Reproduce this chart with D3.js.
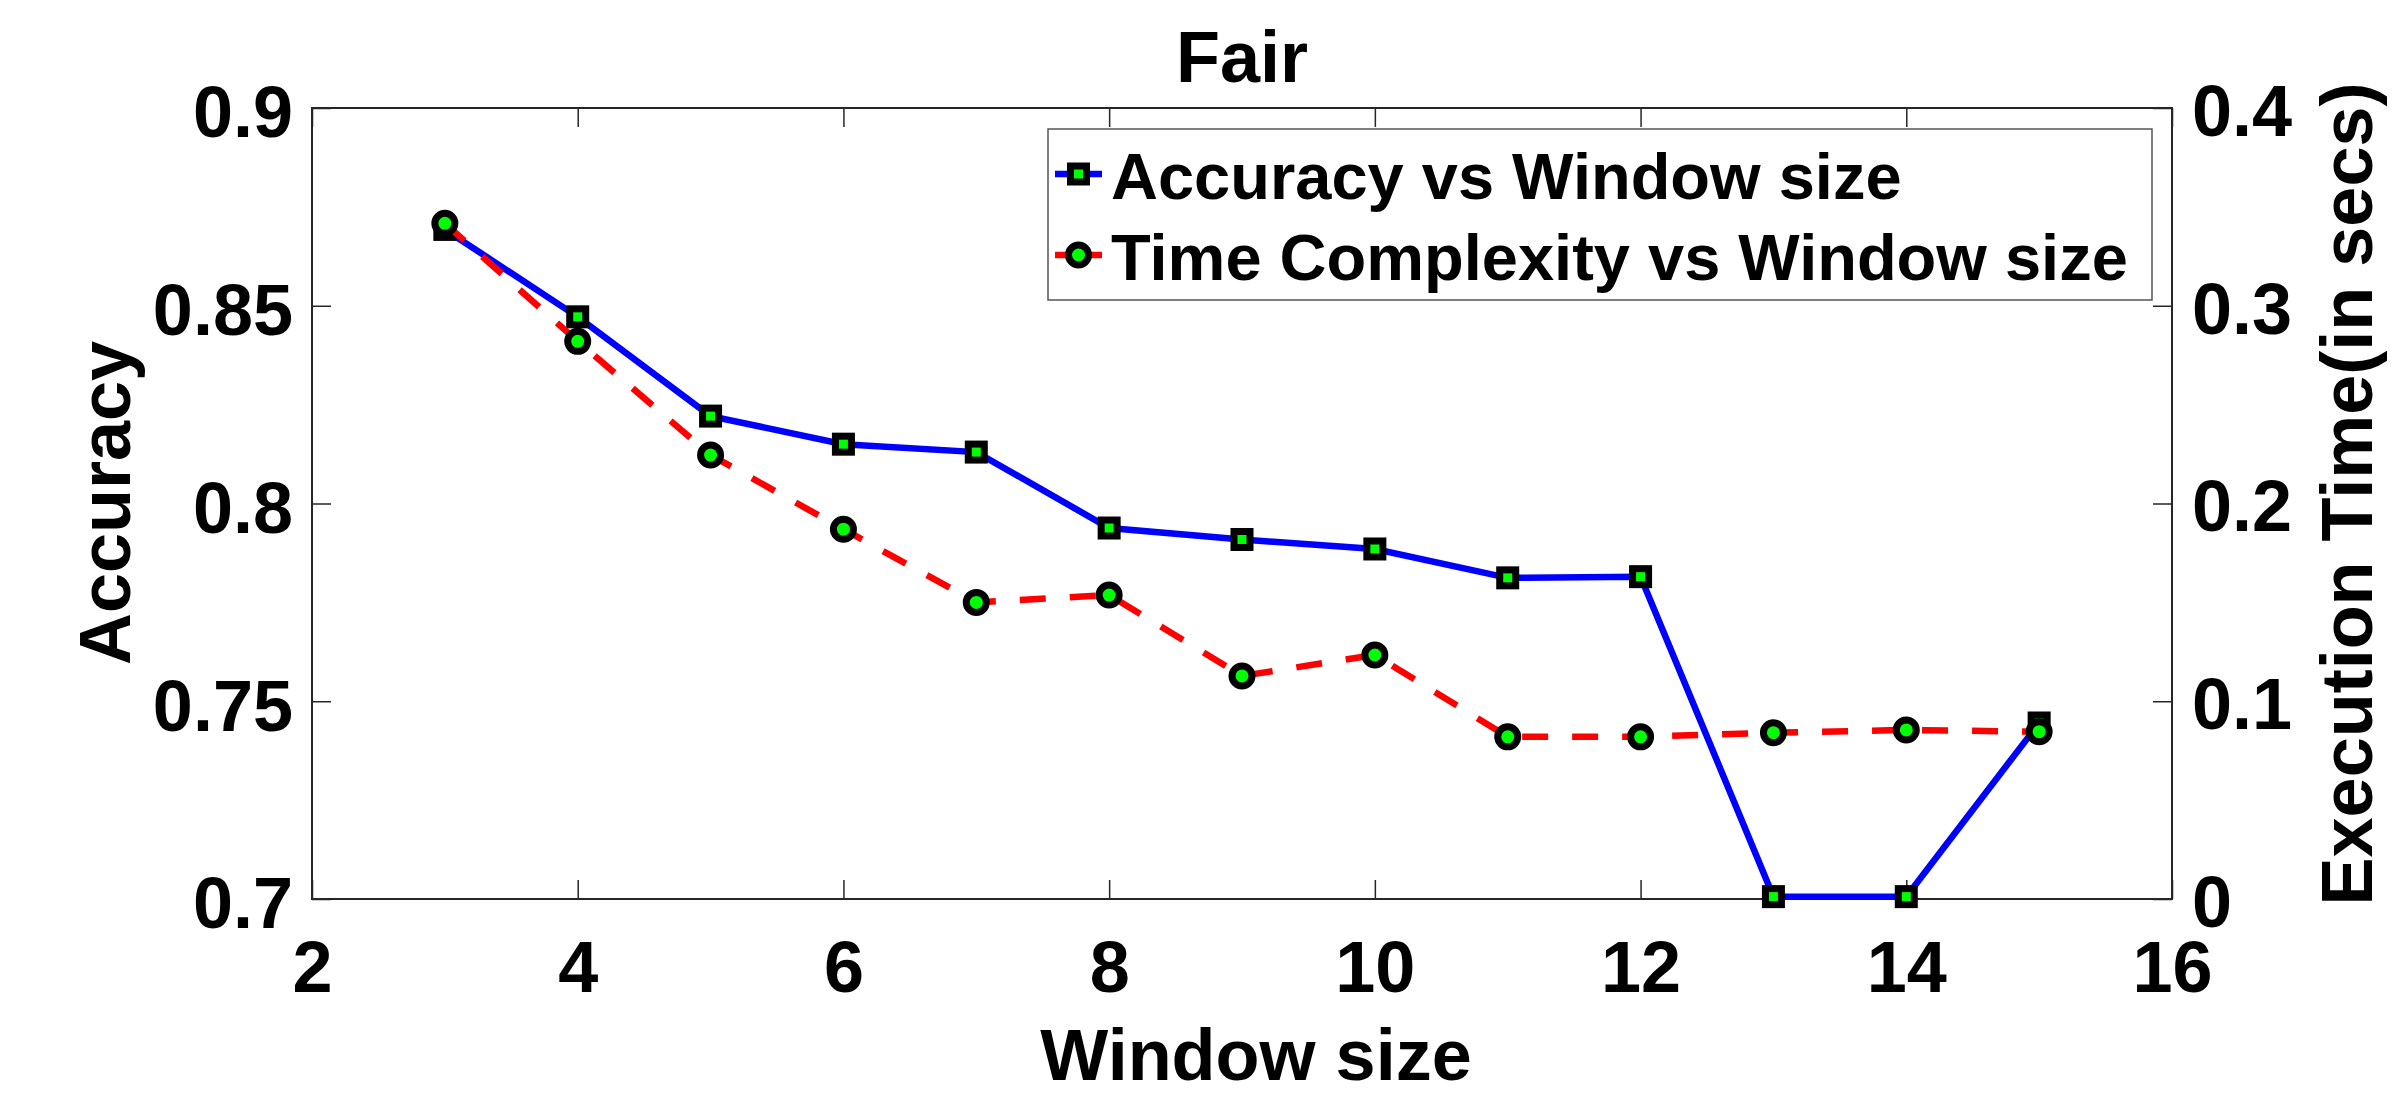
<html>
    <head>
        <script src="https://d3js.org/d3.v7.min.js" charset="utf-8"></script>
    </head>
    <style>
        body{
            margin:0;
            background:#fff;
        }
        text{
            font-family:"Liberation Sans", Arial, Helvetica, sans-serif;
            font-weight:bold;
        }
    </style>
    <body>
    </body>
    <script>
        // values
        const windowSize = [3,4,5,6,7,8,9,10,11,12,13,14,15];
        const accuracy = [0.8693,0.8472,0.8221,0.815,0.813,0.7938,0.7909,0.7885,0.7812,0.7815,0.7006,0.7006,0.7445];
        const execTime = [0.3417,0.282,0.2245,0.187,0.150,0.1537,0.1128,0.1234,0.082,0.082,0.0841,0.0855,0.0846];

        const xTicks = [2,4,6,8,10,12,14,16];
        const accTicks = [0.7,0.75,0.8,0.85,0.9];
        const timeTicks = [0,0.1,0.2,0.3,0.4];

        const seriesNames = ['Accuracy vs Window size','Time Complexity vs Window size'];

        const w = 2400, h = 1098;
        const plotL = 312, plotR = 2172, plotT = 108, plotB = 899;

        const svg = d3.select('body')
                    .append('svg')
                    .attr('width',w)
                    .attr('height',h);

        const x = d3.scaleLinear().domain([2,16]).range([plotL,plotR]);
        const yAcc = d3.scaleLinear().domain([0.7,0.9]).range([plotB,plotT]);
        const yTime = d3.scaleLinear().domain([0,0.4]).range([plotB,plotT]);

        const fmt = d3.format('~g');
        const tickLen = 19;

        function styleAxis(g){
            g.select('.domain').remove();
            g.selectAll('.tick line').attr('stroke','#262626').attr('stroke-width',1.5);
            g.selectAll('.tick text').attr('fill','#000').style('font-size','72px');
        }

        // axes
        svg.append('g')
            .attr('transform','translate(0,'+plotB+')')
            .call(d3.axisBottom(x).tickValues(xTicks).tickFormat(fmt).tickSizeInner(-tickLen).tickSizeOuter(0).tickPadding(42))
            .call(styleAxis);

        svg.append('g')
            .attr('transform','translate(0,'+plotT+')')
            .call(d3.axisTop(x).tickValues(xTicks).tickFormat('').tickSizeInner(-tickLen).tickSizeOuter(0))
            .call(styleAxis);

        const gl = svg.append('g')
            .attr('transform','translate('+plotL+',0)')
            .call(d3.axisLeft(yAcc).tickValues(accTicks).tickFormat(fmt).tickSizeInner(-tickLen).tickSizeOuter(0).tickPadding(19))
            .call(styleAxis);
        gl.selectAll('.tick text').attr('dy','0.4em');

        const gr = svg.append('g')
            .attr('transform','translate('+plotR+',0)')
            .call(d3.axisRight(yTime).tickValues(timeTicks).tickFormat(fmt).tickSizeInner(-tickLen).tickSizeOuter(0).tickPadding(20))
            .call(styleAxis);
        gr.selectAll('.tick text').attr('dy','0.38em');

        // box
        svg.append('rect')
            .attr('x',plotL)
            .attr('y',plotT)
            .attr('width',plotR-plotL)
            .attr('height',plotB-plotT)
            .attr('fill','none')
            .attr('stroke','#262626')
            .attr('stroke-width',2);

        // accuracy line
        const accLine = d3.line()
                        .x((d,i)=>x(windowSize[i]))
                        .y((d)=>yAcc(d));

        svg.append('path')
            .datum(accuracy)
            .attr('d',accLine)
            .attr('fill','none')
            .attr('stroke','#0000ff')
            .attr('stroke-width',6.5);

        svg.selectAll('.sq')
            .data(accuracy)
            .enter()
            .append('rect')
            .attr('class','sq')
            .attr('x',(d,i)=>x(windowSize[i])-8)
            .attr('y',(d)=>yAcc(d)-8)
            .attr('width',16)
            .attr('height',16)
            .attr('fill','#00ff00')
            .attr('stroke','#000')
            .attr('stroke-width',7);

        // time line
        const timeLine = d3.line()
                        .x((d,i)=>x(windowSize[i]))
                        .y((d)=>yTime(d));

        svg.append('path')
            .datum(execTime)
            .attr('d',timeLine)
            .attr('fill','none')
            .attr('stroke','#ff0000')
            .attr('stroke-width',6.5)
            .attr('stroke-dasharray','26,24');

        svg.selectAll('.circ')
            .data(execTime)
            .enter()
            .append('circle')
            .attr('class','circ')
            .attr('cx',(d,i)=>x(windowSize[i]))
            .attr('cy',(d)=>yTime(d))
            .attr('r',10)
            .attr('fill','#00ff00')
            .attr('stroke','#000')
            .attr('stroke-width',7);

        // legend
        const legend = svg.append('g').attr('id','legend');
        legend.append('rect')
            .attr('x',1048)
            .attr('y',129)
            .attr('width',1104)
            .attr('height',171)
            .attr('fill','#fff')
            .attr('stroke','#555')
            .attr('stroke-width',1.5);

        const rows = legend.selectAll('.row')
                        .data(seriesNames)
                        .enter()
                        .append('g')
                        .attr('class','row')
                        .attr('transform',(d,i)=>'translate(1055,'+(174+i*81)+')');

        rows.append('line')
            .attr('x1',0)
            .attr('x2',47)
            .attr('stroke',(d,i)=>i==0?'#0000ff':'#ff0000')
            .attr('stroke-width',6.5);

        rows.filter((d,i)=>i==0)
            .append('rect')
            .attr('x',23.5-8)
            .attr('y',-8)
            .attr('width',16)
            .attr('height',16)
            .attr('fill','#00ff00')
            .attr('stroke','#000')
            .attr('stroke-width',7);

        rows.filter((d,i)=>i==1)
            .append('circle')
            .attr('cx',23.5)
            .attr('r',10)
            .attr('fill','#00ff00')
            .attr('stroke','#000')
            .attr('stroke-width',7);

        rows.append('text')
            .attr('x',56)
            .attr('y',25)
            .text((d)=>d)
            .style('font-size','65px');

        // titles
        svg.append('text')
            .attr('x',(plotL+plotR)/2)
            .attr('y',82)
            .attr('text-anchor','middle')
            .style('font-size','72px')
            .text('Fair');

        svg.append('text')
            .attr('x',1256)
            .attr('y',1080)
            .attr('text-anchor','middle')
            .style('font-size','72px')
            .text('Window size');

        svg.append('text')
            .attr('transform','translate(130,503) rotate(-90)')
            .attr('text-anchor','middle')
            .style('font-size','72px')
            .text('Accuracy');

        svg.append('text')
            .attr('transform','translate(2372,494) rotate(-90)')
            .attr('text-anchor','middle')
            .style('font-size','72px')
            .text('Execution Time(in secs)');
    </script>
</html>
